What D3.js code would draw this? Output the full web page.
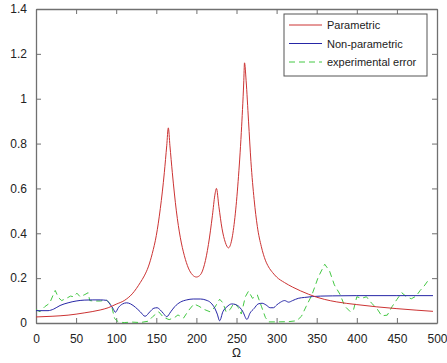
<!DOCTYPE html>
<html>
<head>
<meta charset="utf-8">
<script src="https://cdn.jsdelivr.net/npm/d3@7"></script>
<style>
  body { margin: 0; background: #fff; }
  svg { font-family: "Liberation Sans", Arial, sans-serif; }
</style>
</head>
<body>
<svg id="chart" width="447" height="363"></svg>
<script>
// values
const xTicks = [0, 50, 100, 150, 200, 250, 300, 350, 400, 450, 500];
const yTicks = [0, 0.2, 0.4, 0.6, 0.8, 1, 1.2, 1.4];

const parametricOmega = [0, 20, 40, 60, 80, 90, 100, 110, 120, 130, 135, 140, 145, 150, 155, 160, 163, 165, 167, 170, 175, 180, 185, 190, 195, 200, 205, 210, 215, 220, 223, 225, 228, 232, 236, 240, 244, 248, 252, 256, 259, 260, 262, 265, 268, 272, 276, 281, 286, 290, 295, 300, 310, 320, 330, 340, 350, 360, 375, 400, 425, 450, 475, 495];
const parametricValue = [0.027, 0.03, 0.035, 0.045, 0.058, 0.068, 0.084, 0.10, 0.13, 0.18, 0.21, 0.25, 0.31, 0.39, 0.51, 0.67, 0.79, 0.87, 0.79, 0.67, 0.50, 0.38, 0.30, 0.245, 0.215, 0.205, 0.215, 0.26, 0.35, 0.48, 0.57, 0.60, 0.52, 0.42, 0.36, 0.335, 0.37, 0.47, 0.63, 0.85, 1.07, 1.16, 1.08, 0.90, 0.72, 0.55, 0.43, 0.34, 0.28, 0.25, 0.225, 0.205, 0.18, 0.16, 0.143, 0.128, 0.115, 0.105, 0.094, 0.082, 0.072, 0.064, 0.057, 0.052];

const nonParamOmega = [0, 15, 22, 30, 40, 50, 60, 70, 80, 88, 92, 96, 99, 103, 108, 113, 118, 124, 130, 136, 142, 147, 151, 155, 159, 163, 168, 173, 180, 188, 196, 205, 212, 218, 223, 226, 229, 233, 238, 244, 249, 254, 258, 263, 267, 272, 277, 282, 287, 292, 296, 300, 305, 310, 315, 320, 327, 335, 345, 355, 370, 400, 450, 495];
const nonParamValue = [0.055, 0.055, 0.062, 0.078, 0.09, 0.098, 0.102, 0.103, 0.103, 0.101, 0.085, 0.065, 0.048, 0.07, 0.085, 0.09, 0.085, 0.07, 0.05, 0.03, 0.05, 0.066, 0.068, 0.058, 0.042, 0.028, 0.05, 0.073, 0.093, 0.103, 0.107, 0.107, 0.102, 0.09, 0.065, 0.04, 0.01, 0.05, 0.072, 0.085, 0.082, 0.07, 0.05, 0.016, 0.045, 0.065, 0.085, 0.088, 0.08, 0.068, 0.068, 0.08, 0.093, 0.1, 0.093, 0.1, 0.11, 0.114, 0.118, 0.12, 0.121, 0.122, 0.122, 0.122];

const errorOmega = [0, 5, 11, 17, 22, 24, 28, 32, 38, 43, 47, 51, 55, 61, 65, 67, 72, 80, 88, 94, 98, 103, 110, 120, 130, 140, 146, 153, 159, 166, 173, 177, 184, 190, 197, 203, 210, 217, 223, 229, 233, 237, 242, 247, 252, 256, 261, 265, 270, 276, 281, 286, 290, 300, 315, 325, 331, 337, 344, 352, 360, 366, 372, 379, 385, 392, 396, 400, 406, 412, 418, 425, 431, 438, 444, 450, 456, 462, 468, 474, 479, 484, 489, 491];
const errorValue = [0.06, 0.05, 0.073, 0.088, 0.13, 0.145, 0.113, 0.10, 0.11, 0.12, 0.117, 0.133, 0.117, 0.127, 0.135, 0.10, 0.098, 0.098, 0.102, 0.08, 0.02, 0.004, 0.002, 0.004, 0.002, 0.008, 0.03, 0.05, 0.025, 0.015, 0.025, 0.036, 0.022, 0.055, 0.085, 0.075, 0.06, 0.05, 0.07, 0.106, 0.09, 0.05, 0.06, 0.09, 0.07, 0.04, 0.117, 0.142, 0.11, 0.125, 0.075, 0.025, 0.005, 0.005, 0.006, 0.01, 0.03, 0.075, 0.125, 0.205, 0.262, 0.232, 0.17, 0.128, 0.075, 0.05, 0.06, 0.117, 0.11, 0.117, 0.09, 0.065, 0.032, 0.035, 0.073, 0.105, 0.135, 0.117, 0.108, 0.12, 0.145, 0.165, 0.19, 0.185];

const seriesNames = ["Parametric", "Non-parametric", "experimental error"];
const seriesColors = ["#cc3333", "#2626a6", "#44c844"];

// frame of the axes box
const boxLeft = 36, boxRight = 437, boxTop = 9, boxBottom = 323;

const svg = d3.select("#chart");

const x = d3.scaleLinear().domain([0, 500]).range([boxLeft, boxRight]);
const y = d3.scaleLinear().domain([0, 1.4]).range([boxBottom, boxTop]);

// ticks inside the box, on all four sides (matlab style)
const fmt = d => d3.format("~g")(d);
svg.append("g")
    .attr("transform", `translate(0,${boxBottom})`)
    .call(d3.axisBottom(x).tickValues(xTicks).tickFormat(fmt).tickSizeInner(-5).tickSizeOuter(0).tickPadding(11));
svg.append("g")
    .attr("transform", `translate(0,${boxTop})`)
    .call(d3.axisTop(x).tickValues(xTicks).tickFormat("").tickSizeInner(-5).tickSizeOuter(0));
svg.append("g")
    .attr("transform", `translate(${boxLeft},0)`)
    .call(d3.axisLeft(y).tickValues(yTicks).tickFormat(fmt).tickSizeInner(-5).tickSizeOuter(0).tickPadding(9));
svg.append("g")
    .attr("transform", `translate(${boxRight},0)`)
    .call(d3.axisRight(y).tickValues(yTicks).tickFormat("").tickSizeInner(-5).tickSizeOuter(0));

svg.selectAll(".domain").attr("stroke", "#707070").attr("stroke-width", 1.3);
svg.selectAll(".tick line").attr("stroke", "#707070");
svg.selectAll(".tick text").attr("fill", "#222").style("font-size", "12px");

svg.append("text")
    .attr("x", (boxLeft + boxRight) / 2).attr("y", 357)
    .attr("text-anchor", "middle")
    .attr("fill", "#222")
    .style("font-size", "12px")
    .text("Ω");

// lines
const line = d3.line()
    .x(d => x(d[0]))
    .y(d => y(d[1]));

const series = [
    d3.zip(parametricOmega, parametricValue),
    d3.zip(nonParamOmega, nonParamValue),
    d3.zip(errorOmega, errorValue)
];

const plot = svg.append("g");
// draw order: green under, then blue, red on top
[2, 1, 0].forEach(i => {
    plot.append("path")
        .datum(series[i])
        .attr("fill", "none")
        .attr("stroke", seriesColors[i])
        .attr("stroke-width", 1)
        .attr("stroke-dasharray", i === 2 ? "6,4" : null)
        .attr("d", i === 2 ? line.curve(d3.curveLinear) : line.curve(d3.curveMonotoneX));
});

// legend
const lg = svg.append("g");
lg.append("rect")
    .attr("x", 284).attr("y", 14)
    .attr("width", 143).attr("height", 62)
    .attr("fill", "#fff")
    .attr("stroke", "#555")
    .attr("stroke-width", 1);

seriesNames.forEach((name, i) => {
    const ry = 25 + i * 18.5;
    lg.append("line")
        .attr("x1", 289).attr("x2", 322)
        .attr("y1", ry).attr("y2", ry)
        .attr("stroke", seriesColors[i])
        .attr("stroke-width", 1)
        .attr("stroke-dasharray", i === 2 ? "6,4" : null);
    lg.append("text")
        .attr("x", 327).attr("y", ry + 4)
        .attr("fill", "#222")
        .style("font-size", "11px")
        .text(name);
});
</script>
</body>
</html>
